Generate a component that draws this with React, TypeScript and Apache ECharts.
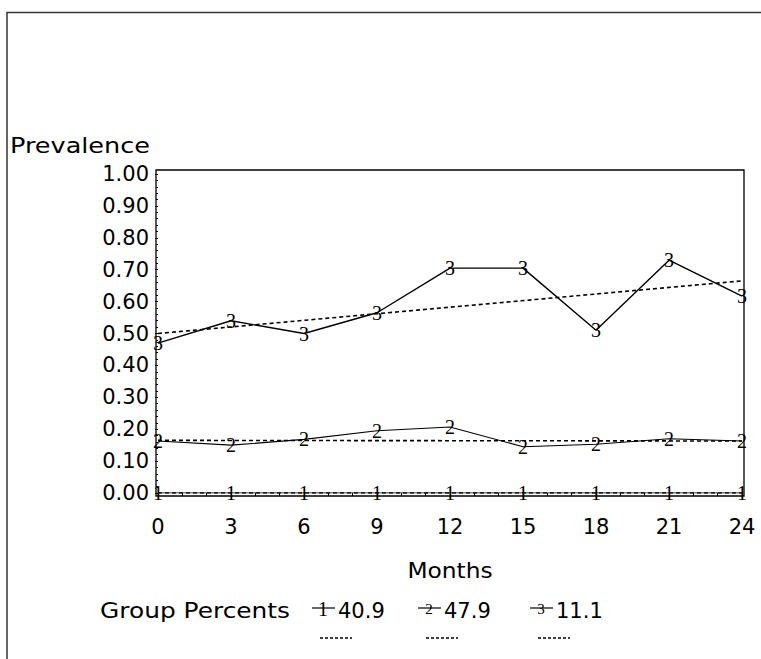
import React, { useEffect, useRef } from "react";
import * as echarts from "echarts";

const months = [0, 3, 6, 9, 12, 15, 18, 21, 24];
const group1 = [0, 0, 0, 0, 0, 0, 0, 0, 0];
const group2 = [0.163, 0.15, 0.168, 0.195, 0.207, 0.145, 0.153, 0.17, 0.163];
const group3 = [0.47, 0.54, 0.5, 0.565, 0.705, 0.705, 0.51, 0.73, 0.617];
const trendMonths = [0, 24];
const trend1 = [0, 0];
const trend2 = [0.165, 0.163];
const trend3 = [0.5, 0.665];
const groupSymbols = ["1", "2", "3"];
const groupPercents = ["40.9", "47.9", "11.1"];
const yTitle = "Prevalence";
const xTitle = "Months";
const legendTitle = "Group Percents";

const FONT = "DejaVu Sans";
const MARK_FONT = "Liberation Sans Narrow";

function pairs(xs: number[], ys: number[]) {
  return xs.map((x, i) => [x, ys[i]]);
}

export default function App() {
  const ref = useRef<HTMLDivElement>(null);
  useEffect(() => {
    if (!ref.current) return;
    const chart = echarts.init(ref.current, undefined, { renderer: "svg" });
    const groups = [group1, group2, group3];
    const trends = [trend1, trend2, trend3];
    const series: any[] = [];
    groups.forEach((g, i) => {
      series.push({
        type: "line",
        name: "Trend " + groupSymbols[i],
        data: pairs(trendMonths, trends[i]),
        symbol: "none",
        lineStyle: { color: "#000", width: 1.6, type: [4, 3] },
        z: 2,
      });
      series.push({
        type: "line",
        name: "Group " + groupSymbols[i],
        data: pairs(months, g),
        symbol: "circle",
        symbolSize: 0.01,
        lineStyle: { color: "#000", width: i === 2 ? 1.4 : 1.1 },
        itemStyle: { color: "#000" },
        z: 3,
        label: {
          show: true,
          position: "inside",
          formatter: () => groupSymbols[i],
          fontFamily: MARK_FONT,
          fontSize: 20,
          color: "#000",
        },
      });
    });

    const legendStartX = [312, 418, 530];
    const graphics: any[] = [
      {
        type: "rect",
        shape: { x: 7, y: 12.5, width: 800, height: 700 },
        style: { fill: "none", stroke: "#333", lineWidth: 1.5 },
        silent: true,
      },
      {
        type: "rect",
        shape: { x: 156, y: 170, width: 588, height: 326 },
        style: { fill: "none", stroke: "#000", lineWidth: 1.3 },
        silent: true,
      },
      {
        type: "text",
        x: 10,
        y: 146,
        scaleX: 1.16,
        style: {
          text: yTitle,
          font: `22px "${FONT}"`,
          fill: "#000",
          textAlign: "left",
          textVerticalAlign: "middle",
        },
      },
      {
        type: "text",
        x: 450,
        y: 570,
        scaleX: 1.06,
        style: {
          text: xTitle,
          font: `22px "${FONT}"`,
          fill: "#000",
          textAlign: "center",
          textVerticalAlign: "middle",
        },
      },
      {
        type: "text",
        x: 100,
        y: 611,
        scaleX: 1.13,
        style: {
          text: legendTitle,
          font: `22px "${FONT}"`,
          fill: "#000",
          textAlign: "left",
          textVerticalAlign: "middle",
        },
      },
    ];
    groupSymbols.forEach((s, i) => {
      const x0 = legendStartX[i];
      graphics.push({
        type: "line",
        shape: { x1: x0, y1: 608, x2: x0 + 23, y2: 608 },
        style: { stroke: "#000", lineWidth: 1.2 },
      });
      graphics.push({
        type: "text",
        x: x0 + 11,
        y: 609,
        style: {
          text: s,
          font: `${i === 0 ? 20 : 15}px "${MARK_FONT}"`,
          fill: "#000",
          textAlign: "center",
          textVerticalAlign: "middle",
        },
      });
      graphics.push({
        type: "text",
        x: x0 + 26,
        y: 611,
        style: {
          text: groupPercents[i],
          font: `21px "${FONT}"`,
          fill: "#000",
          textAlign: "left",
          textVerticalAlign: "middle",
        },
      });
      graphics.push({
        type: "line",
        shape: { x1: x0 + 8, y1: 638, x2: x0 + 40, y2: 638 },
        style: { stroke: "#000", lineWidth: 1.3, lineDash: [3, 2] },
      });
    });

    chart.setOption({
      animation: false,
      backgroundColor: "#fff",
      grid: { left: 158, top: 174, width: 584, height: 319, containLabel: false },
      xAxis: {
        type: "value",
        min: 0,
        max: 24,
        interval: 3,
        offset: 3,
        axisLine: { show: false },
        axisTick: { show: true, length: 6, lineStyle: { color: "#000", width: 1 } },
        minorTick: { show: true, splitNumber: 3, length: 3, lineStyle: { color: "#000", width: 1 } },
        splitLine: { show: false },
        axisLabel: { fontFamily: FONT, fontSize: 21, color: "#000", margin: 20, lineHeight: 21 },
      },
      yAxis: {
        type: "value",
        min: 0,
        max: 1,
        interval: 0.1,
        offset: 2,
        axisLine: { show: false },
        axisTick: { show: true, length: 3, lineStyle: { color: "#000", width: 1 } },
        minorTick: { show: true, splitNumber: 5, length: 2, lineStyle: { color: "#000", width: 1 } },
        splitLine: { show: false },
        axisLabel: {
          fontFamily: FONT,
          fontSize: 21,
          color: "#000",
          margin: 7,
          formatter: (v: number) => v.toFixed(2),
        },
      },
      series,
      graphic: graphics,
    });
    return () => chart.dispose();
  }, []);
  return (
    <div
      ref={ref}
      style={{ position: "absolute", left: 0, top: 0, width: 761, height: 659 }}
    />
  );
}
